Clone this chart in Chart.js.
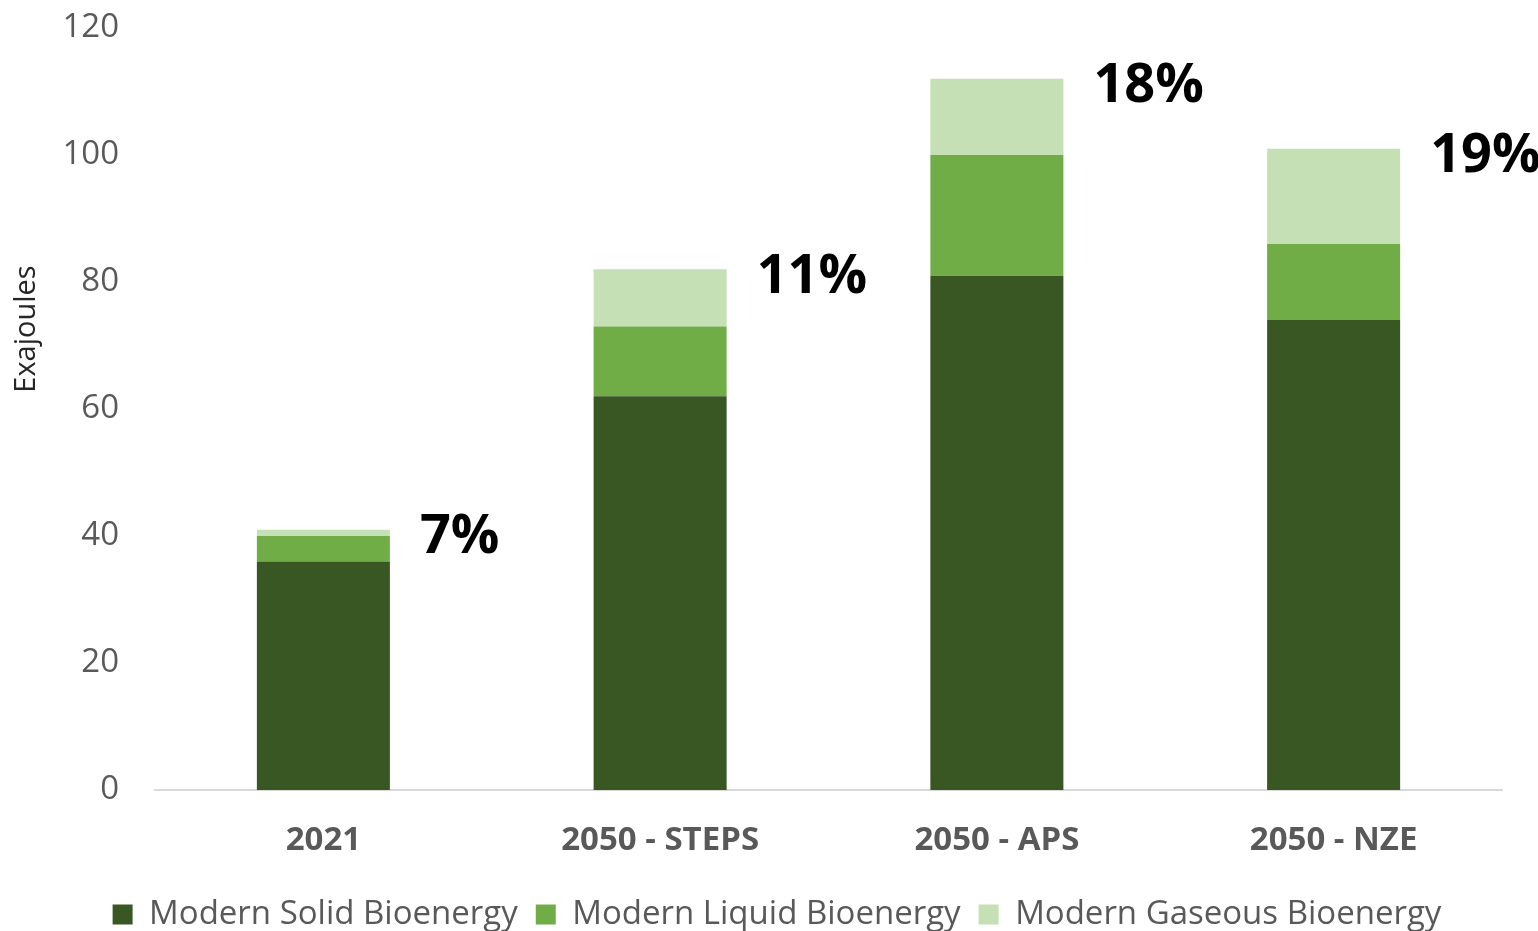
<!DOCTYPE html>
<html>
<head>
<meta charset="utf-8">
<script src="https://cdn.jsdelivr.net/npm/chart.js@4"></script>
<style>
  html, body { margin: 0; padding: 0; background: #fff; }
  #wrap { width: 1538px; height: 931px; }
</style>
</head>
<body>
<div id="wrap"><canvas id="myChart" width="1538" height="931"></canvas></div>
<script>
// DATA
const categories = ["2021", "2050 - STEPS", "2050 - APS", "2050 - NZE"];
const solid = [36, 62, 81, 74];
const liquid = [4, 11, 19, 12];
const gaseous = [1, 9, 12, 15];
const shares = ["7%", "11%", "18%", "19%"];
const yTicks = [0, 20, 40, 60, 80, 100, 120];
const yTitle = "Exajoules";

const FONT = "'Open Sans', 'Noto Sans', sans-serif";

// percent labels right of each stack, plus the y title
const shareLabels = {
    id: "shareLabels",
    afterDatasetsDraw(chart) {
        const ctx = chart.ctx;
        const meta = chart.getDatasetMeta(chart.data.datasets.length - 1);
        ctx.save();
        ctx.font = "bold 54px " + FONT;
        ctx.fillStyle = "#000";
        ctx.textAlign = "left";
        ctx.textBaseline = "middle";
        meta.data.forEach((bar, i) => {
            ctx.fillText(shares[i], bar.x + bar.width / 2 + 30, bar.y + 8);
        });
        ctx.restore();

        const area = chart.chartArea;
        ctx.save();
        ctx.translate(27, (area.top + area.bottom) / 2 - 80);
        ctx.rotate(-Math.PI / 2);
        ctx.font = "29px " + FONT;
        ctx.fillStyle = "#262626";
        ctx.textAlign = "center";
        ctx.textBaseline = "middle";
        ctx.fillText(yTitle, 0, 0);
        ctx.restore();
    },
};

const config = {
    type: "bar",
    data: {
        labels: categories,
        datasets: [
            { label: "Modern Solid Bioenergy", data: solid, backgroundColor: "#385723" },
            { label: "Modern Liquid Bioenergy", data: liquid, backgroundColor: "#70AD47" },
            { label: "Modern Gaseous Bioenergy", data: gaseous, backgroundColor: "#C5E0B4" },
        ],
    },
    options: {
        responsive: false,
        animation: false,
        layout: { padding: { top: 28, right: 36, left: 52, bottom: -10 } },
        datasets: { bar: { categoryPercentage: 1, barPercentage: 0.395 } },
        scales: {
            x: {
                stacked: true,
                grid: { display: false },
                border: { color: "#d9d9d9", width: 2 },
                ticks: {
                    color: "#595959",
                    padding: 23,
                    font: { family: FONT, size: 33, weight: "bold" },
                },
                afterFit(s) {
                    s.height = 90;
                    s.paddingLeft = 0;
                    s.paddingRight = 0;
                },
            },
            y: {
                stacked: true,
                min: 0,
                max: 120,
                grid: { display: false },
                border: { display: false },
                afterBuildTicks(s) { s.ticks = yTicks.map(v => ({ value: v })); },
                ticks: {
                    color: "#595959",
                    padding: 28,
                    font: { family: FONT, size: 33 },
                },
                afterFit(s) {
                    s.width = 103;
                    s.paddingTop = 0;
                    s.paddingBottom = 0;
                },
            },
        },
        plugins: {
            legend: {
                position: "bottom",
                labels: {
                    color: "#595959",
                    boxWidth: 20,
                    boxHeight: 20,
                    padding: 18,
                    font: { family: FONT, size: 33 },
                },
            },
            tooltip: { enabled: false },
        },
    },
    plugins: [shareLabels],
};

const myChart = new Chart(document.getElementById("myChart"), config);
</script>
</body>
</html>
